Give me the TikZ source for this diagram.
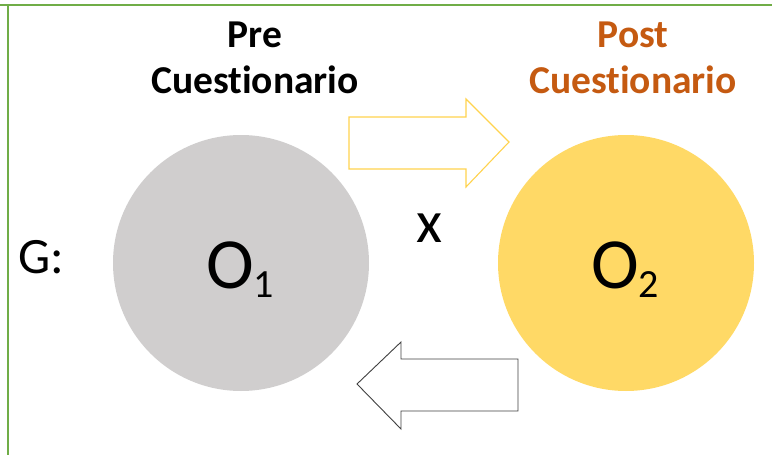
\documentclass[tikz,border=0pt]{standalone}
\usepackage{fontspec}
\setmainfont{Carlito}[Ligatures=NoCommon]
\begin{document}
\begin{tikzpicture}[x=1pt,y=-1pt,
  obs/.style={circle, minimum size=256pt, inner sep=0pt},
  heading/.style={font=\bfseries\fontsize{39.5}{46}\selectfont, anchor=base, inner sep=0pt},
  bigtext/.style={font=\fontsize{72}{74}\selectfont, anchor=base, inner sep=0pt},
  arrowshape/.style={line width=1.1pt, fill=white, line join=miter}]
\definecolor{frame}{HTML}{70AD47}
\definecolor{grayobs}{HTML}{D0CECE}
\definecolor{goldobs}{HTML}{FFD966}
\definecolor{postcol}{HTML}{C55A11}
\definecolor{yellowline}{HTML}{FFD34E}
\definecolor{darkline}{HTML}{404040}
\newcommand{\obslabel}[1]{O\raisebox{-9pt}{\fontsize{40}{42}\selectfont #1}}
\useasboundingbox (0,0) rectangle (772,455);
% frame: top and left edges
\draw[draw=frame, line width=2pt] (0,5) -- (772,5);
\draw[draw=frame, line width=2pt] (8,4) -- (8,455);
% observations
\node[obs, fill=grayobs] (o1) at (241,263) {};
\node[obs, fill=goldobs] (o2) at (626,263) {};
\node[bigtext] (o1t) at (240,288) {\obslabel{1}};
\node[bigtext] (o2t) at (625,288) {\obslabel{2}};
% headings
\node[heading] (pre1) at (255,47) {Pre};
\node[heading] (pre2) at (255,93) {Cuestionario};
\node[heading, text=postcol] (post1) at (633,47) {Post};
\node[heading, text=postcol] (post2) at (633,93) {Cuestionario};
% labels
\node[font=\fontsize{51}{53}\selectfont, anchor=base west, inner sep=0pt] (g) at (18,273) {G:};
\node[font=\fontsize{60}{62}\selectfont, anchor=base, inner sep=0pt] (x) at (429.5,242) {x};
% forward arrow
\draw[arrowshape, draw=yellowline] (349,117) -- (466,117) -- (466,99) -- (509,142)
  -- (466,187) -- (466,169) -- (349,169) -- cycle;
% backward arrow
\draw[arrowshape, draw=darkline, line width=0.9pt] (518,359) -- (401,359) -- (401,342) -- (357,384)
  -- (401,429) -- (401,411) -- (518,411) -- cycle;
\end{tikzpicture}
\end{document}
